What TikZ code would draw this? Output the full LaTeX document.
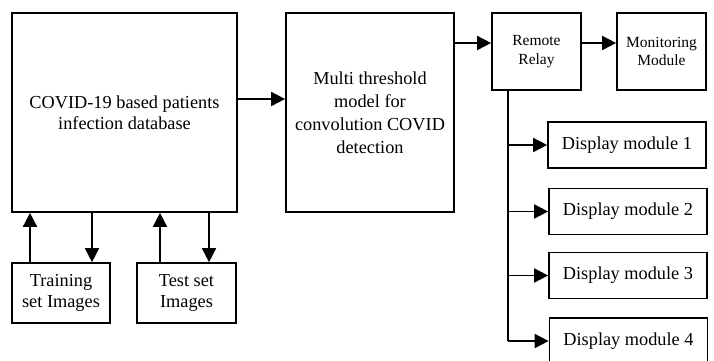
\documentclass[tikz,border=0pt]{standalone}
\usepackage{fontspec}
\setmainfont{Liberation Serif}
\usepackage{tikz}
\usetikzlibrary{arrows.meta,positioning,calc}
\tikzset{
    box/.style={rectangle, draw=black, line width=1.7pt, fill=white, align=center,
                minimum width=#1, inner sep=2pt, font=\fontsize{18.3}{21}\selectfont},
    smallbox/.style={box=89pt, minimum height=77pt, font=\fontsize{15.5}{18.5}\selectfont},
    dispbox/.style={box=158pt, minimum height=46pt},
    arr/.style={-{Triangle[length=14pt,width=14pt]}, line width=1.7pt},
    ln/.style={line width=1.7pt},
}
\begin{document}
\begin{tikzpicture}[x=1pt, y=-1pt]
    \useasboundingbox (0,0) rectangle (714,360);
    % data side
    \node[box=225pt, minimum height=199pt] (db) at (124.5,112.5)
        {COVID-19 based patients\\infection database};
    \node[box=98pt, minimum height=60pt] (train) at (61,293) {Training\\set Images};
    \node[box=99pt, minimum height=60pt] (test) at (186.5,293) {Test set\\Images};
    % detection and output side
    \node[box=168pt, minimum height=199pt, font=\fontsize{18.3}{23}\selectfont] (model) at (370,112.5)
        {Multi threshold\\model for\\convolution COVID\\detection};
    \node[smallbox] (relay) at (536.5,51.5) {Remote\\Relay};
    \node[smallbox] (monitor) at (661.5,51.5) {Monitoring\\Module};
    \node[dispbox] (disp1) at (627,145)   {Display module 1};
    \node[dispbox] (disp2) at (628,211.5) {Display module 2};
    \node[dispbox] (disp3) at (628,275.5) {Display module 3};
    \node[dispbox] (disp4) at (628.5,341) {Display module 4};

    \draw[arr] ([xshift=-31pt]train.north) -- ([xshift=-31pt]train.north |- db.south);
    \draw[arr] ([xshift=31pt]train.north |- db.south) -- ([xshift=31pt]train.north);
    \draw[arr] ([xshift=-26.5pt]test.north) -- ([xshift=-26.5pt]test.north |- db.south);
    \draw[arr] ([xshift=22.5pt]test.north |- db.south) -- ([xshift=22.5pt]test.north);

    \draw[arr] ([yshift=13.5pt]db.east) -- ([yshift=13.5pt]model.west);
    \draw[arr] ([yshift=69.5pt]model.east) -- ([yshift=69.5pt]model.east -| relay.west);
    \draw[arr] ([yshift=8.5pt]relay.east) -- ([yshift=8.5pt]monitor.west);

    % relay bus to the displays
    \coordinate (tap) at ([xshift=-28.5pt]relay.south);
    \draw[ln] (tap) -- (tap |- disp4.west);
    \foreach \d in {disp1,disp2,disp3,disp4}
        \draw[arr] (tap |- \d.west) -- (\d.west);
\end{tikzpicture}
\end{document}
